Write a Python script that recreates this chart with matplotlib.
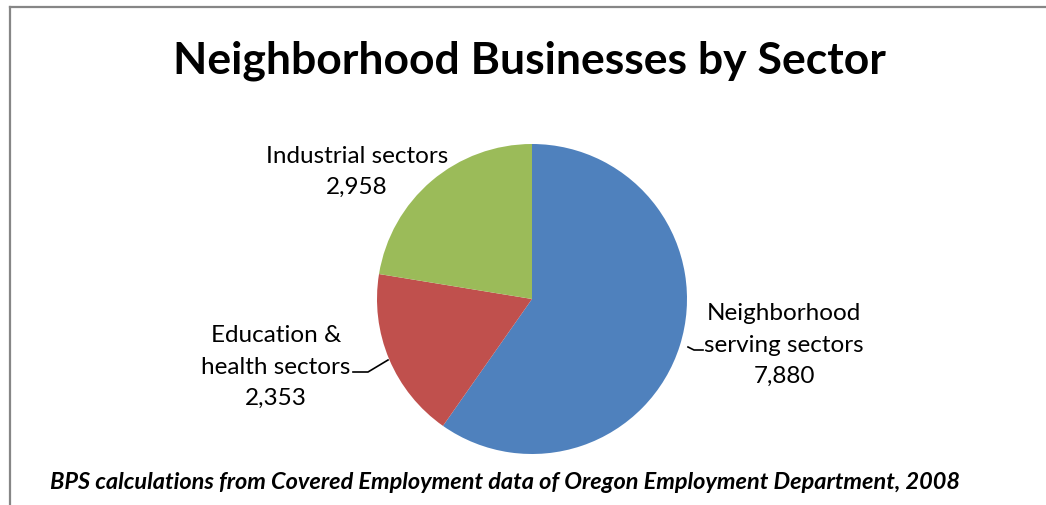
import matplotlib
matplotlib.use("Agg")
import matplotlib.pyplot as plt
from matplotlib.lines import Line2D

# data
sectors = ['Neighborhood\nserving sectors', 'Education &\nhealth sectors', 'Industrial sectors']
counts = [7880, 2353, 2958]
colors = ['#4F81BD', '#C0504D', '#9BBB59']

plt.rcParams['font.family'] = ['Lato', 'DejaVu Sans']

fig = plt.figure(figsize=(10.46, 5.06), dpi=100)
ax = fig.add_axes([0, 0, 1, 1])

ax.pie(counts, colors=colors, startangle=90, counterclock=False,
       center=(532, 206), radius=155, frame=True,
       wedgeprops=dict(linewidth=0))
ax.set_xlim(0, 1046)
ax.set_ylim(0, 506)
ax.set_aspect('equal')
ax.axis('off')

# labels
lbl = dict(fontsize=17.5, color='black', ha='center', va='center', linespacing=1.6)
ax.text(357, 334, f"{sectors[2]}\n{counts[2]:,}", **lbl)
ax.text(276, 139, f"{sectors[1]}\n{counts[1]:,}", **lbl)
ax.text(784, 161, f"{sectors[0]}\n{counts[0]:,}", **lbl)

# leader lines
ax.plot([353, 368, 388], [133, 133, 145], color='black', lw=1.2)
ax.plot([688, 694, 703], [158, 155, 155], color='black', lw=1.2)

fig.text(0.506, 0.879, 'Neighborhood Businesses by Sector', fontsize=32,
         fontweight='bold', ha='center', va='center')
fig.text(0.048, 0.046,
         'BPS calculations from Covered Employment data of Oregon Employment Department, 2008',
         fontsize=16.9, fontweight='bold', fontstyle='italic', ha='left', va='center')

# chart frame (left and top edges visible)
fig.add_artist(Line2D([9.5 / 1046, 9.5 / 1046], [0, 1 - 7.5 / 506],
                      transform=fig.transFigure, color='#868686', lw=1.6))
fig.add_artist(Line2D([9.5 / 1046, 1], [1 - 7.5 / 506, 1 - 7.5 / 506],
                      transform=fig.transFigure, color='#868686', lw=1.6))

fig.savefig('out.png', dpi=100, facecolor='white')
